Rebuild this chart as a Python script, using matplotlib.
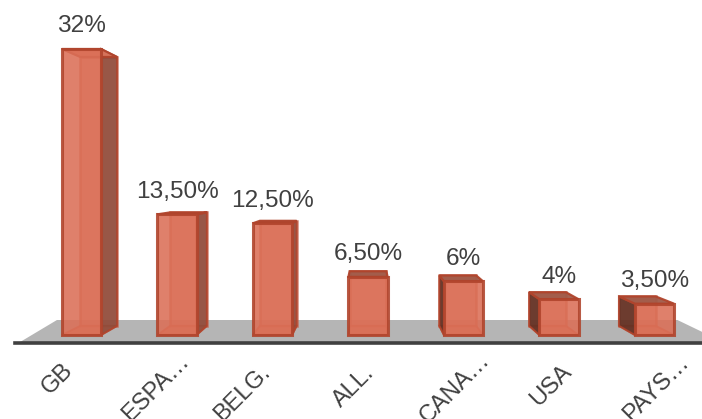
import matplotlib
matplotlib.use("Agg")
import matplotlib.pyplot as plt
from matplotlib.patches import Polygon
from matplotlib.transforms import ScaledTranslation

plt.rcParams["font.family"] = ["Liberation Sans", "DejaVu Sans"]

# Data
categories = ["GB", "ESPA…", "BELG.", "ALL.", "CANA…", "USA", "PAYS…"]
values = [32, 13.5, 12.5, 6.5, 6, 4, 3.5]
value_labels = ["32%", "13,50%", "12,50%", "6,50%", "6%", "4%", "3,50%"]

# pixel shift of each rotated label centre (dx, dy), the source chart places them unevenly
label_shift = [(-24, -36), (-21, -45), (-30, -50), (-14, -44), (-9, -45), (-8, -43), (2, -45)]

W, H = 702, 419
px_x = 95.5  # pixels per category
px_y = 286 / 32  # pixels per percent
x0_px, y0_px = 81.5, 335  # first bar centre, bar base
axis_px = 343

fig = plt.figure(figsize=(W / 100, H / 100), dpi=100)
ax = fig.add_axes([15 / W, (H - axis_px) / H, (W - 15) / W, axis_px / H])
ax.set_xlim((15 - x0_px) / px_x, (W - x0_px) / px_x)
ax.set_ylim((y0_px - axis_px) / px_y, y0_px / px_y)

for s in ["top", "left", "right"]:
    ax.spines[s].set_visible(False)
ax.spines["bottom"].set_linewidth(2.6)
ax.spines["bottom"].set_color("#404040")
ax.spines["bottom"].set_zorder(3)
ax.set_yticks([])

ax.set_xticks(range(len(categories)))
ax.set_xticklabels(categories, rotation=45, ha="center", va="center",
                   rotation_mode="anchor", fontsize=17, color="#404040")
ax.tick_params(axis="x", length=0, pad=0)
for lab, (dx, dy) in zip(ax.get_xticklabels(), label_shift):
    lab.set_transform(lab.get_transform() + ScaledTranslation(dx / 100, dy / 100, fig.dpi_scale_trans))

# gray floor
floor_y = 15 / px_y
ymin = ax.get_ylim()[0]
ax.add_patch(Polygon([(-0.66, ymin), (-0.257, floor_y), (6.24, floor_y), (6.74, ymin)],
                     fc="#b5b5b5", ec="none", zorder=1))

# perspective of the 3d bars
vx, vy = 3.0, 17.1
t = 0.06
half = 0.205
edge = "#b0442c"
inner = "#c4553b"


def back(x, y):
    return x + t * (vx - x), y + t * (vy - y)


for i, v in enumerate(values):
    l, r = i - half, i + half
    fl, ft, fr = (l, 0), (l, v), (r, v)
    br_ = (r, 0)
    bl, bt, btr, bbr = back(l, 0), back(l, v), back(r, v), back(r, 0)

    # back wall
    ax.add_patch(Polygon([bl, bt, btr, bbr], fc="#dd7a62", ec=inner, lw=1.8, alpha=0.7, zorder=2))
    # bottom
    ax.add_patch(Polygon([fl, bl, bbr, br_], fc="#d9745c", ec=inner, lw=1.4, alpha=0.8, zorder=2.1))
    # side towards the vanishing point
    if i < 3:
        ax.add_patch(Polygon([br_, fr, btr, bbr], fc="#8a4a3a", ec=edge, lw=1.4, alpha=0.85, zorder=2.2))
    elif i > 3:
        ax.add_patch(Polygon([fl, ft, bt, bl], fc="#5c2e22", ec=edge, lw=1.4, alpha=0.88, zorder=2.2))
    # top
    top_fc = "#d9745c" if bt[1] < v else "#a05a48"
    ax.add_patch(Polygon([ft, fr, btr, bt], fc=top_fc, ec=edge, lw=1.6, alpha=0.95, zorder=2.3))
    # front
    ax.add_patch(Polygon([fl, ft, fr, br_], fc="#db6f57", ec=edge, lw=2.2, alpha=0.88,
                         joinstyle="miter", zorder=2.4))

    ax.annotate(value_labels[i], (i, v), xytext=(0, 22.5 * 0.72), textcoords="offset points",
                ha="center", va="center", fontsize=17.6, color="#404040")

fig.savefig("out.png", dpi=100)
